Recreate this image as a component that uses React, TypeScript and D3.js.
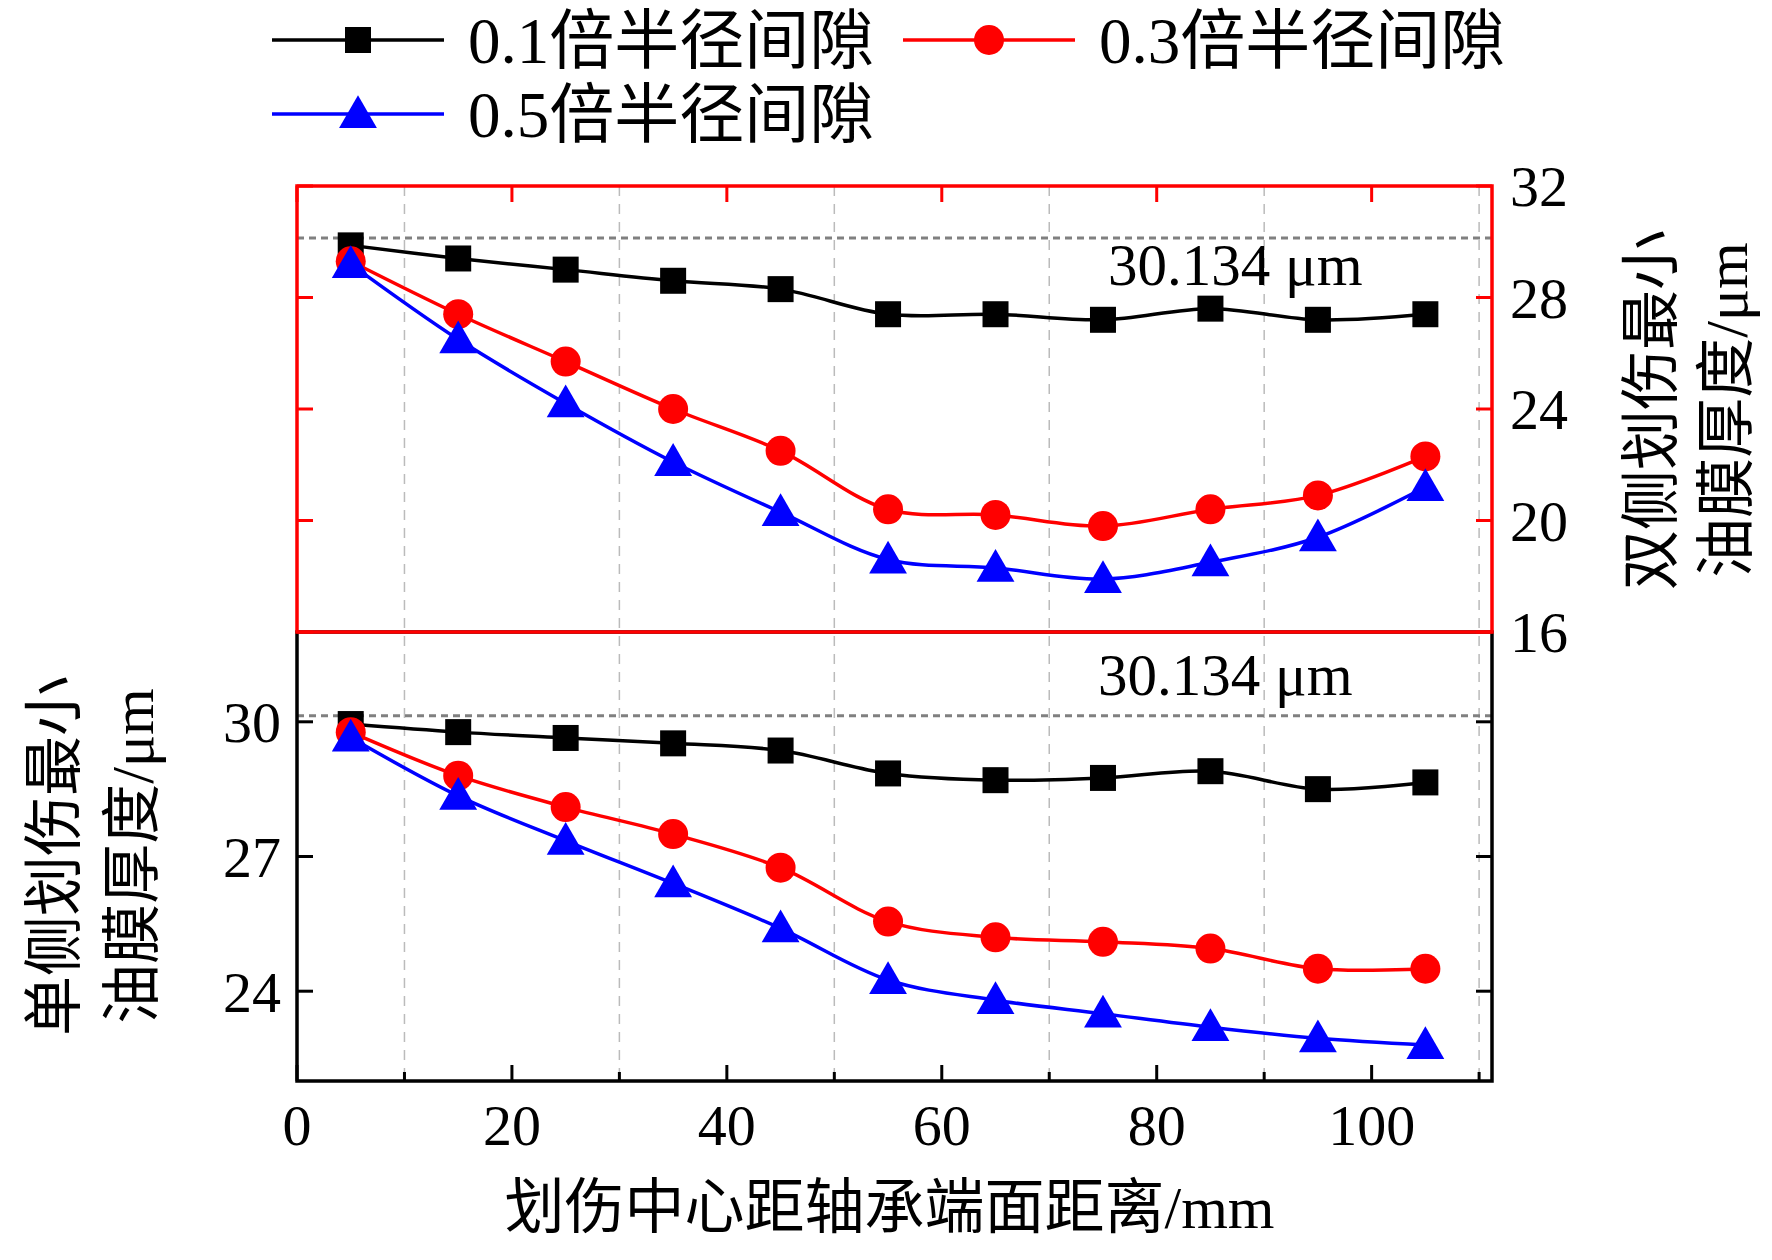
import React from 'react'
import * as d3 from 'd3'

const xs = [5, 15, 25, 35, 45, 55, 65, 75, 85, 95, 105]
const seriesNames = ['0.1倍半径间隙', '0.3倍半径间隙', '0.5倍半径间隙']
const colors = ['#000000', '#ff0000', '#0000ff']
const symbols = ['square', 'circle', 'triangle']

// top panel: 双侧划伤 (right axis)
const topBlack = [29.87, 29.4, 29.0, 28.6, 28.3, 27.4, 27.4, 27.2, 27.6, 27.2, 27.4]
const topRed = [29.3, 27.4, 25.7, 24.0, 22.5, 20.4, 20.2, 19.8, 20.4, 20.9, 22.3]
const topBlue = [29.2, 26.5, 24.2, 22.1, 20.3, 18.6, 18.3, 17.9, 18.5, 19.4, 21.2]
// bottom panel: 单侧划伤 (left axis)
const botBlack = [29.95, 29.77, 29.64, 29.52, 29.36, 28.85, 28.7, 28.75, 28.9, 28.5, 28.65]
const botRed = [29.77, 28.8, 28.1, 27.5, 26.75, 25.55, 25.2, 25.1, 24.95, 24.5, 24.5]
const botBlue = [29.65, 28.35, 27.35, 26.4, 25.4, 24.25, 23.8, 23.5, 23.2, 22.95, 22.8]

const refValue = 30.134
const xTicks = [0, 20, 40, 60, 80, 100]
const xMinor = [10, 30, 50, 70, 90, 110]
const topTicks = [16, 20, 24, 28, 32]
const botTicks = [24, 27, 30]

const W = 1772, H = 1260
const L = 297, R = 1492, T = 186, M = 632, B = 1081
const serif = '"Liberation Serif", "Times New Roman", serif'
const cjk = '"Liberation Serif", "Noto Sans CJK SC", serif'

const x = d3.scaleLinear().domain([0, 111.2]).range([L, R])
const yTop = d3.scaleLinear().domain([16, 32]).range([M, T])
const yBot = d3.scaleLinear().domain([22, 32]).range([B, M])

function Marker({ kind, cx, cy, color }: { kind: string; cx: number; cy: number; color: string }) {
  if (kind === 'square') return <rect x={cx - 13} y={cy - 13} width={26} height={26} fill={color} />
  if (kind === 'circle') return <circle cx={cx} cy={cy} r={15} fill={color} />
  const s = d3.symbol(d3.symbolTriangle, 620)()
  return <path d={s || ''} transform={`translate(${cx},${cy + 3})`} fill={color} />
}

function Series({ vals, y, i }: { vals: number[]; y: d3.ScaleLinear<number, number>; i: number }) {
  const line = d3.line<number>().x((_, k) => x(xs[k])).y(v => y(v)).curve(d3.curveCatmullRom)
  return (
    <g>
      <path d={line(vals) || ''} fill="none" stroke={colors[i]} strokeWidth={3.5} />
      {vals.map((v, k) => <Marker key={k} kind={symbols[i]} cx={x(xs[k])} cy={y(v)} color={colors[i]} />)}
    </g>
  )
}

export default function App() {
  return (
    <svg width={W} height={H} style={{ position: 'absolute', left: 0, top: 0, background: '#fff' }}>
      {/* grid */}
      {xMinor.map(t => (
        <line key={t} x1={x(t)} x2={x(t)} y1={T} y2={B} stroke="#bbb" strokeWidth={1.5} strokeDasharray="10,8" />
      ))}
      {/* reference lines */}
      <line x1={L} x2={R} y1={yTop(refValue)} y2={yTop(refValue)} stroke="#808080" strokeWidth={3} strokeDasharray="7,5" />
      <line x1={L} x2={R} y1={yBot(refValue)} y2={yBot(refValue)} stroke="#808080" strokeWidth={3} strokeDasharray="7,5" />
      <text x={1108} y={285} fontFamily={serif} fontSize={59}>30.134 μm</text>
      <text x={1098} y={695} fontFamily={serif} fontSize={59}>30.134 μm</text>

      {/* bottom frame */}
      <rect x={L} y={M} width={R - L} height={B - M} fill="none" stroke="#000" strokeWidth={3.5} />
      {xTicks.map(t => <line key={t} x1={x(t)} x2={x(t)} y1={B} y2={B - 16} stroke="#000" strokeWidth={3} />)}
      {xMinor.map(t => <line key={t} x1={x(t)} x2={x(t)} y1={B} y2={B - 9} stroke="#000" strokeWidth={3} />)}
      {botTicks.map(t => (
        <g key={t}>
          <line x1={L} x2={L + 16} y1={yBot(t)} y2={yBot(t)} stroke="#000" strokeWidth={3} />
          <line x1={R} x2={R - 16} y1={yBot(t)} y2={yBot(t)} stroke="#000" strokeWidth={3} />
          <text x={L - 16} y={yBot(t)} dy="0.35em" textAnchor="end" fontFamily={serif} fontSize={58}>{t}</text>
        </g>
      ))}
      {xTicks.map(t => (
        <text key={t} x={x(t)} y={B + 64} textAnchor="middle" fontFamily={serif} fontSize={58}>{t}</text>
      ))}

      {/* top frame (red) */}
      <rect x={L} y={T} width={R - L} height={M - T} fill="none" stroke="#ff0000" strokeWidth={3.5} />
      {xTicks.map(t => <line key={t} x1={x(t)} x2={x(t)} y1={T} y2={T + 16} stroke="#ff0000" strokeWidth={3} />)}
      {topTicks.map(t => (
        <g key={t}>
          <line x1={L} x2={L + 16} y1={yTop(t)} y2={yTop(t)} stroke="#ff0000" strokeWidth={3} />
          <line x1={R} x2={R - 16} y1={yTop(t)} y2={yTop(t)} stroke="#ff0000" strokeWidth={3} />
          <text x={R + 18} y={yTop(t)} dy="0.35em" fontFamily={serif} fontSize={58}>{t}</text>
        </g>
      ))}

      <Series vals={topBlack} y={yTop} i={0} />
      <Series vals={topRed} y={yTop} i={1} />
      <Series vals={topBlue} y={yTop} i={2} />
      <Series vals={botBlack} y={yBot} i={0} />
      <Series vals={botRed} y={yBot} i={1} />
      <Series vals={botBlue} y={yBot} i={2} />

      {/* axis titles */}
      <text x={(L + R) / 2 - 5} y={1228} textAnchor="middle" fontFamily={cjk} fontSize={60}>划伤中心距轴承端面距离/mm</text>
      <g transform={`translate(55,856) rotate(-90)`}>
        <text x={0} y={20} textAnchor="middle" fontFamily={cjk} fontSize={60}>单侧划伤最小</text>
        <text x={0} y={98} textAnchor="middle" fontFamily={cjk} fontSize={60}>油膜厚度/μm</text>
      </g>
      <g transform={`translate(1652,410) rotate(-90)`}>
        <text x={0} y={20} textAnchor="middle" fontFamily={cjk} fontSize={60}>双侧划伤最小</text>
        <text x={0} y={95} textAnchor="middle" fontFamily={cjk} fontSize={60}>油膜厚度/μm</text>
      </g>

      {/* legend */}
      {[[272, 40], [903, 40], [272, 114]].map(([lx, ly], i) => (
        <g key={i}>
          <line x1={lx} x2={lx + 172} y1={ly} y2={ly} stroke={colors[i]} strokeWidth={3.5} />
          <Marker kind={symbols[i]} cx={lx + 86} cy={ly} color={colors[i]} />
          <text x={lx + 196} y={ly} dy="0.35em" fontFamily={cjk} fontSize={65}>{seriesNames[i]}</text>
        </g>
      ))}
    </svg>
  )
}
